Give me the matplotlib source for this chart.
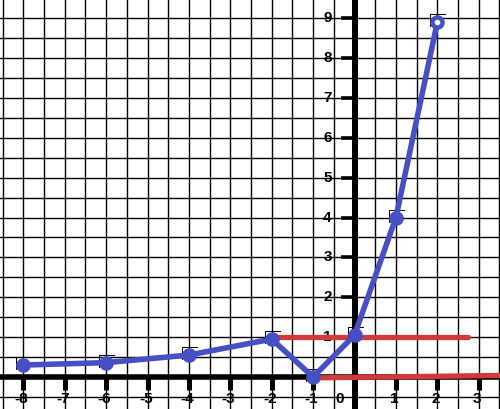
import numpy as np
import matplotlib.pyplot as plt

# values
xs = [-8, -6, -4, -2, -1, 0, 1, 2]
ys = [0.3, 0.36, 0.55, 0.95, 0.0, 1.05, 4.0, 8.9]

red_top_x = [-2, 2.75]
red_top_y = [1, 1]
red_low_x = [-0.83, 3.6]
red_low_y = [-0.02, 0.04]

x_ticks = [-8, -7, -6, -5, -4, -3, -2, -1, 1, 2, 3]
y_ticks = [1, 2, 3, 4, 5, 6, 7, 8, 9]

blue = '#4450c4'
red = '#d23a3a'

fig = plt.figure(figsize=(5, 4.09), dpi=100)
ax = fig.add_axes([0, 0, 1, 1])
ax.set_xlim(-8.563, 3.514)
ax.set_ylim(-0.803, 9.458)
ax.axis('off')

# half-unit grid
for gx in np.arange(-8.5, 3.51, 0.5):
	ax.axvline(gx, color='black', lw=1.0, zorder=1)
for gy in np.arange(-0.5, 9.51, 0.5):
	ax.axhline(gy, color='black', lw=1.0, zorder=1)

# thick axes
ax.axhline(0, color='black', lw=4, zorder=2)
ax.axvline(0, color='black', lw=4.3, zorder=2)

# tick marks as short thick strokes
for t in x_ticks:
	ax.plot([t, t], [0, -0.33], color='black', lw=3.6, solid_capstyle='butt', zorder=2)
for t in y_ticks:
	ax.plot([-0.32, 0], [t, t], color='black', lw=2.6, solid_capstyle='butt', zorder=2)

lab = dict(family=['Liberation Sans', 'DejaVu Sans'], fontsize=11, fontweight='bold', zorder=3)
for t in x_ticks:
	ax.text(t - 0.04, -0.55, str(t), ha='center', va='center', **lab)
ax.text(-0.35, -0.55, '0', ha='center', va='center', **lab)
for t in y_ticks:
	ax.text(-0.55, t, str(t), ha='right', va='center', **lab)

# red lines
ax.plot(red_top_x, red_top_y, color=red, lw=3.8, solid_capstyle='round', zorder=4)
ax.plot(red_low_x, red_low_y, color=red, lw=3.8, solid_capstyle='round', zorder=4)

# blue curve with points
ax.plot(xs, ys, color=blue, lw=4, solid_joinstyle='round', solid_capstyle='round', zorder=5)
ax.plot(xs, ys, 'o', color=blue, ms=9.5, zorder=6)
ax.plot(xs[-1:], ys[-1:], 'o', color='white', ms=3, zorder=7)

# little pen marks above each point (pixel offsets turned into data units)
fig.canvas.draw()
px_x = 1 / 41.4
px_y = 1 / 39.86
for x, y in zip(xs, ys):
	ax.plot([x - 7 * px_x, x - 7 * px_x, x + 8 * px_x],
			[y - 4 * px_y, y + 8 * px_y, y + 8 * px_y],
			color='black', lw=0.7, zorder=4.5)

fig.savefig('out.png', dpi=100)
